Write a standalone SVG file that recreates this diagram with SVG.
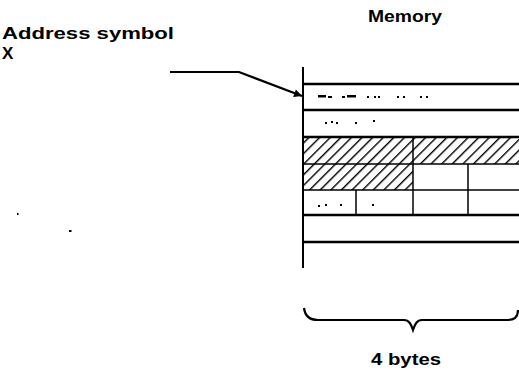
<svg xmlns="http://www.w3.org/2000/svg" width="519" height="374" viewBox="0 0 519 374">
<defs>
<style>
.t{font-family:"Liberation Sans",Arial,sans-serif;font-weight:bold;font-size:17px;fill:#000}
.ln{stroke:#000;fill:none}
.thk{stroke-width:2.5}
.thn{stroke-width:1.5}
</style>
<pattern id="hatch" patternUnits="userSpaceOnUse" width="7.5" height="7.5" patternTransform="rotate(45)">
<rect width="7.5" height="7.5" fill="#fff"/>
<line x1="0" y1="0" x2="0" y2="7.5" stroke="#000" stroke-width="2.8"/>
</pattern>
<marker id="ah" viewBox="0 0 10 10" refX="10" refY="5" markerWidth="12" markerHeight="8" markerUnits="userSpaceOnUse" orient="auto">
<path d="M0,0 L10,5 L0,10 z" fill="#000"/>
</marker>
</defs>
<rect width="519" height="374" fill="#fff"/>
<g id="title"><text class="t" x="405" y="22" text-anchor="middle" textLength="74" lengthAdjust="spacingAndGlyphs">Memory</text></g>
<g id="address-label">
<text class="t" x="2" y="39" textLength="172" lengthAdjust="spacingAndGlyphs">Address symbol</text>
<text class="t" x="2" y="59">X</text>
</g>
<g id="memory">
<rect x="303" y="137" width="216" height="27" fill="url(#hatch)"/>
<rect x="303" y="164" width="110" height="26" fill="url(#hatch)"/>
<line class="ln" x1="303" y1="67" x2="303" y2="268" stroke-width="2"/>
<line class="ln thk" x1="303" y1="84" x2="519" y2="84"/>
<line class="ln thk" x1="303" y1="110" x2="519" y2="110"/>
<line class="ln thk" x1="303" y1="137" x2="519" y2="137"/>
<line class="ln thn" x1="303" y1="164" x2="519" y2="164"/>
<line class="ln thn" x1="303" y1="190" x2="519" y2="190"/>
<line class="ln thk" x1="303" y1="215" x2="519" y2="215"/>
<line class="ln thk" x1="303" y1="242" x2="519" y2="242"/>
<line class="ln thn" x1="413" y1="137" x2="413" y2="215"/>
<line class="ln thn" x1="468" y1="164" x2="468" y2="215"/>
<line class="ln thn" x1="356" y1="190" x2="356" y2="215"/>
<g fill="#000">
<rect x="318" y="95" width="8" height="2.5"/><rect x="328" y="96" width="4" height="2"/><rect x="342" y="96" width="3" height="2"/><rect x="347" y="95" width="9" height="2.5"/>
<rect x="367" y="96" width="2" height="2"/><rect x="374" y="96" width="2" height="2"/><rect x="378" y="96" width="2" height="2"/><rect x="397" y="96" width="2" height="2"/><rect x="403" y="96" width="2" height="2"/><rect x="420" y="96" width="2" height="2"/><rect x="426" y="96" width="2" height="2"/>
<rect x="325" y="122" width="2" height="2"/><rect x="331" y="121" width="2" height="2"/><rect x="336" y="122" width="2" height="2"/><rect x="355" y="122" width="2" height="2"/><rect x="373" y="120" width="2" height="2"/>
<rect x="318" y="205" width="2" height="2"/><rect x="325" y="204" width="2" height="2"/><rect x="340" y="204" width="2" height="2"/><rect x="372" y="204" width="2" height="2"/>
<rect x="17" y="213" width="1.5" height="2"/><rect x="69" y="230" width="2.5" height="2"/>
</g>
</g>
<g id="connectors">
<polyline class="ln" stroke-width="2.2" points="170,72 239,72 302,96" marker-end="url(#ah)"/>
<path class="ln" stroke-width="2.2" d="M304,308 C305,316 309,320 318,320 L404,320 C409,320 411,324 413,330 C415,324 417,320 422,320 L508,320 C515,320 518,317 518,310"/>
</g>
<g id="width-label"><text class="t" x="406" y="365" text-anchor="middle" textLength="70" lengthAdjust="spacingAndGlyphs">4 bytes</text></g>
</svg>
